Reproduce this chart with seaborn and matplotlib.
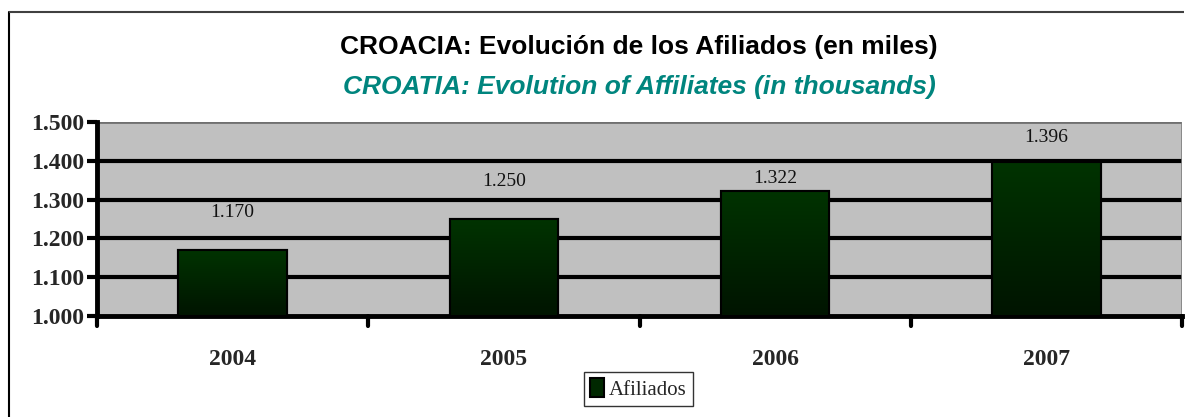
import matplotlib
matplotlib.use("Agg")
import matplotlib.pyplot as plt
import seaborn as sns
import pandas as pd
import numpy as np
from matplotlib.patches import Rectangle

years = ['2004', '2005', '2006', '2007']
afiliados = [1170, 1250, 1322, 1396]
value_labels = ['1.170', '1.250', '1.322', '1.396']
y_ticks = [1000, 1100, 1200, 1300, 1400, 1500]
y_tick_labels = ['1.000', '1.100', '1.200', '1.300', '1.400', '1.500']
# Excel put the data labels at uneven heights, offsets in points
label_offsets = [27, 27, 9, 18]

df = pd.DataFrame({'year': years, 'afiliados': afiliados})

sns.set_theme(style='white')
plt.rcParams['font.family'] = ['Liberation Serif', 'DejaVu Serif']

fig = plt.figure(figsize=(11.86, 4.17), dpi=100)
ax = fig.add_axes([97 / 1186, 1 - 316 / 417, 1085 / 1186, 194 / 417])
ax.set_facecolor('#C0C0C0')

sns.barplot(data=df, x='year', y='afiliados', ax=ax, color='#002800',
            width=0.40, edgecolor='black', linewidth=1.5, saturation=1,
            errorbar=None, label='Afiliados', zorder=3)

# gradient fill inside each bar
grad = np.linspace(0, 1, 256).reshape(-1, 1)
cmap = matplotlib.colors.LinearSegmentedColormap.from_list('g', ['#001400', '#003300'])
for bar in ax.patches:
    x0, y0 = bar.get_x(), bar.get_y()
    w, h = bar.get_width(), bar.get_height()
    im = ax.imshow(grad, extent=[x0, x0 + w, 1000, y0 + h], origin='lower',
                   cmap=cmap, aspect='auto', zorder=3.5)
    im.set_clip_path(bar)
    r = Rectangle((x0, 1000), w, y0 + h - 1000, fill=False, edgecolor='black',
                  linewidth=1.5, zorder=4)
    ax.add_patch(r)
ax.set_aspect('auto')
ax.set_xlim(-0.5, 3.5)
ax.set_ylim(1000, 1500)

for i, (v, lab) in enumerate(zip(afiliados, value_labels)):
    ax.annotate(lab, (i, v), xytext=(0, label_offsets[i]), textcoords='offset points',
                ha='center', va='center', fontsize=14, color='#111111', zorder=5)

# gridlines
for t in y_ticks[1:-1]:
    ax.axhline(t, color='black', linewidth=3, zorder=2)
ax.axhline(1500, color='#707070', linewidth=2, zorder=2)
ax.axvline(3.5, color='#808080', linewidth=1.2, zorder=2)

ax.set_yticks(y_ticks)
ax.set_yticklabels(y_tick_labels, fontsize=17, fontweight='bold')
ax.set_xticks([0, 1, 2, 3])
ax.set_xticklabels(years, fontsize=17, fontweight='bold')
ax.tick_params(axis='y', direction='out', length=7, width=3, color='black', pad=2, left=True)
ax.tick_params(axis='x', length=0, pad=24)
for xt in [-0.5, 0.5, 1.5, 2.5, 3.5]:
    ax.plot([xt, xt], [0, -0.05], transform=ax.get_xaxis_transform(), color='black',
            linewidth=3, clip_on=False, zorder=6)
ax.set_xlabel('')
ax.set_ylabel('')

for s in ['left', 'bottom']:
    ax.spines[s].set_color('black')
    ax.spines[s].set_linewidth(3.5)
ax.spines['top'].set_visible(False)
ax.spines['right'].set_visible(False)

leg = ax.legend(loc='center', bbox_to_anchor=(638 / 1186, 1 - 389 / 417),
                bbox_transform=fig.transFigure, fontsize=15, frameon=True,
                fancybox=False, edgecolor='black', handlelength=0.7, handleheight=1.0,
                handletextpad=0.2, borderpad=0.3, borderaxespad=0)
leg.get_frame().set_linewidth(1)

fig.text(639 / 1186, 1 - 47 / 417, 'CROACIA: Evolución de los Afiliados (en miles)',
         ha='center', va='center', fontsize=19, fontweight='bold',
         family=['Liberation Sans Narrow', 'Liberation Sans', 'DejaVu Sans'], color='black')
fig.text(639 / 1186, 1 - 87 / 417, 'CROATIA: Evolution of Affiliates (in thousands)',
         ha='center', va='center', fontsize=19, fontweight='bold', style='italic',
         family=['Liberation Sans Narrow', 'Liberation Sans', 'DejaVu Sans'], color='#00857E')

# chart frame (left and top edges visible, the rest is cut off)
fig.add_artist(plt.Line2D([9 / 1186, 9 / 1186], [0, 1 - 12 / 417], transform=fig.transFigure,
                          color='black', linewidth=1.5))
fig.add_artist(plt.Line2D([9 / 1186, 1184 / 1186], [1 - 12 / 417, 1 - 12 / 417],
                          transform=fig.transFigure, color='#404040', linewidth=1.5,
                          solid_capstyle='butt'))

fig.savefig('out.png', dpi=100, facecolor='white', edgecolor='none')
